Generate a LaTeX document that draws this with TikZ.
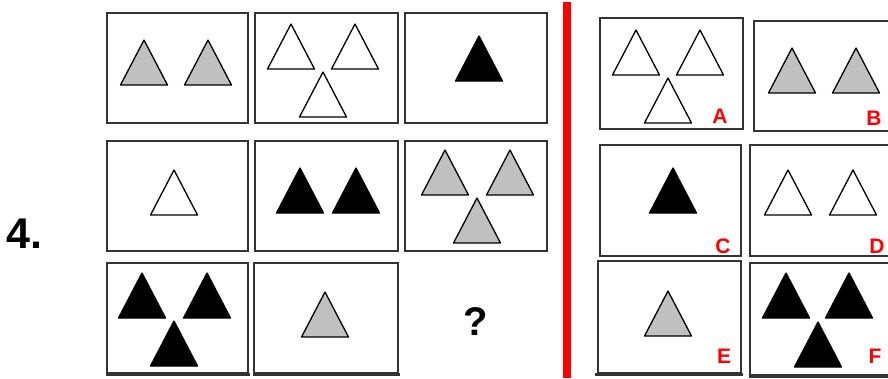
\documentclass[tikz,border=0pt]{standalone}
\usepackage{fontspec}
\setmainfont{Liberation Sans}
\definecolor{triGray}{HTML}{C0C0C0}
\definecolor{boxEdge}{HTML}{333333}
\tikzset{
  boxline/.style={draw=boxEdge, line width=2pt},
  baseline/.style={draw=boxEdge, line width=3pt},
  trishape/.style={draw=black, line width=1.3pt, line join=round},
  optlabel/.style={text=red, font=\bfseries\fontsize{21}{21}\selectfont, inner sep=0pt, anchor=base},
}
\newcommand\tri[3]{\filldraw[trishape, fill=#1] ({#2-23.5},{#3}) -- ({#2},{#3-45}) -- ({#2+23.5},{#3}) -- cycle;}
\begin{document}
\begin{tikzpicture}[x=1pt,y=-1pt]
\fill[white] (0,0) rectangle (888,378);
\useasboundingbox (0,0) rectangle (888,378);
\clip (0,0) rectangle (888,378);
% number
\node[anchor=base west, inner sep=0pt, font=\bfseries\fontsize{43}{43}\selectfont] (num) at (6,248) {4.};
% left grid boxes
\draw[boxline] (107,13) rectangle (248,123);
\draw[boxline] (255,13) rectangle (398,123);
\draw[boxline] (405,13) rectangle (547,123);
\draw[boxline] (107,141) rectangle (248,251);
\draw[boxline] (255,141) rectangle (398,251);
\draw[boxline] (405,141) rectangle (547,251);
\draw[boxline] (107,263) rectangle (248,373);
\draw[boxline] (254,263) rectangle (398,373);
\draw[baseline] (106,374) -- (250,374);
\draw[baseline] (253,374) -- (400,374);
% left triangles
\tri{triGray}{144}{85} \tri{triGray}{208}{85}
\tri{white}{291}{69} \tri{white}{355}{69} \tri{white}{323}{117}
\tri{black}{479}{81}
\tri{white}{174}{215}
\tri{black}{300}{213} \tri{black}{356}{213}
\tri{triGray}{445}{195} \tri{triGray}{510}{195} \tri{triGray}{477}{243}
\tri{black}{142}{318} \tri{black}{207}{318} \tri{black}{174}{366}
\tri{triGray}{325}{337}
\node[anchor=base, inner sep=0pt, font=\bfseries\fontsize{40}{40}\selectfont] (q) at (476,335) {?};
% red divider
\fill[red] (563,2) rectangle (571,378);
% answer boxes
\draw[boxline] (600,18) rectangle (743,129);
\draw[boxline] (754,21) rectangle (895,131);
\draw[boxline] (600,145) rectangle (741,256);
\draw[boxline] (750,145) rectangle (895,256);
\draw[boxline] (598,261) rectangle (741,373);
\draw[boxline] (750,263) rectangle (895,375);
\draw[baseline] (595,374) -- (743,374);
\draw[baseline] (749,376) -- (895,376);
% answer triangles
\tri{white}{636}{75} \tri{white}{700}{75} \tri{white}{668}{123}
\tri{triGray}{792}{93} \tri{triGray}{856}{93}
\tri{black}{673}{213}
\tri{white}{788}{215} \tri{white}{853}{215}
\tri{triGray}{668}{336}
\tri{black}{786}{318} \tri{black}{849}{318} \tri{black}{818}{367}
% labels
\node[optlabel] (la) at (720,123) {A};
\node[optlabel] (lb) at (874,125) {B};
\node[optlabel] (lc) at (723,253) {C};
\node[optlabel] (ld) at (877,253) {D};
\node[optlabel] (le) at (724,363) {E};
\node[optlabel] (lf) at (875,363) {F};
\end{tikzpicture}
\end{document}
